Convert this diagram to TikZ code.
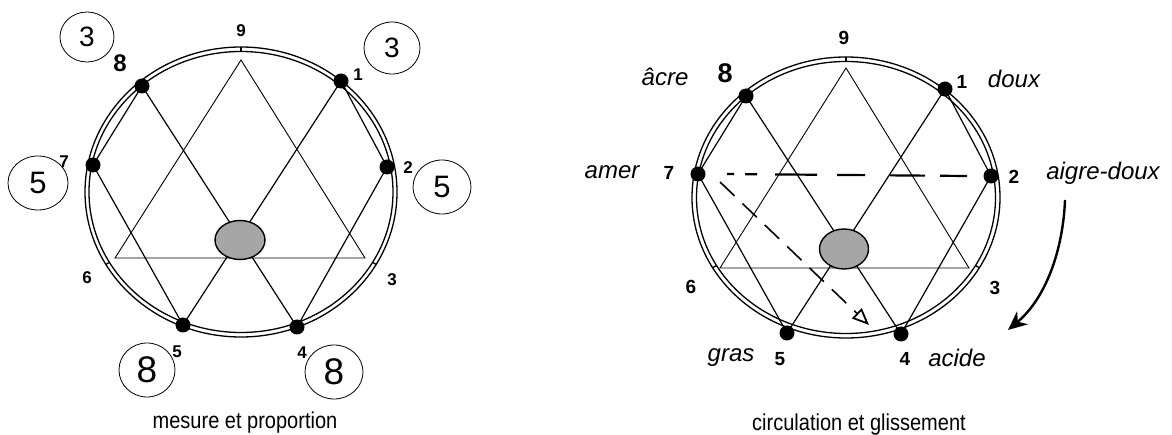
\documentclass[tikz,border=0pt]{standalone}
\usepackage{fontspec}
\setmainfont{Liberation Sans}
\usetikzlibrary{shapes.geometric,arrows.meta,calc}
\begin{document}
\begin{tikzpicture}[x=1pt,y=-1pt,
  ring/.style={line width=1.3pt},
  tri/.style={line width=0.9pt},
  hex/.style={line width=1.2pt},
  dot/.style={circle,fill=black,inner sep=0pt,minimum size=15pt},
  hub/.style={ellipse,draw,line width=1.4pt,fill=gray!70,inner sep=0pt},
  num/.style={font=\fontsize{17}{17}\selectfont\bfseries,inner sep=0pt},
  rnum/.style={font=\fontsize{19}{19}\selectfont\bfseries,inner sep=0pt},
  bignum/.style={font=\fontsize{24}{24}\selectfont\bfseries,inner sep=0pt},
  bubble/.style={ellipse,draw,line width=0.8pt,inner sep=0pt,minimum width=56pt,minimum height=52pt},
  taste/.style={font=\fontsize{24}{24}\selectfont\itshape,inner sep=0pt},
  caption/.style={font=\fontsize{23}{23}\selectfont,inner sep=0pt}]
\useasboundingbox (0,0) rectangle (1172,435);
\fill[white] (0,0) rectangle (1172,435);

% ---------------- left diagram ----------------
\coordinate (L) at (241,192);
\draw[ring] (L) ellipse [x radius=156pt, y radius=145pt];
\draw[ring] (L) ellipse [x radius=152pt, y radius=140.5pt];
\foreach \a in {90,210,330}
  \draw[ring] ($(L)+(\a:152pt and 140.5pt)$) -- ($(L)+(\a:156pt and 145pt)$);
\coordinate (Lt9) at (241,60);
\coordinate (Lt3) at (365,258);
\coordinate (Lt6) at (115,258);
\draw[tri] (Lt9) -- (Lt3) -- (Lt6) -- cycle;
\node[dot] (L8) at (142,86) {};
\node[dot] (L1) at (341,81) {};
\node[dot] (L7) at (93,165) {};
\node[dot] (L2) at (387,167) {};
\node[dot] (L5) at (183,325) {};
\node[dot] (L4) at (297,327) {};
\draw[hex] (L8.center) -- (L4.center);
\draw[hex] (L1.center) -- (L5.center);
\draw[hex] (L7.center) -- (L5.center);
\draw[hex] (L2.center) -- (L4.center);
\draw[hex] (L7.center) -- (L8.center);
\draw[hex] (L1.center) -- (L2.center);
\node[hub,minimum width=50pt,minimum height=39pt] (Lhub) at (240,240) {};

\node[bubble,font=\fontsize{28}{28}\selectfont,minimum width=54pt,minimum height=50pt] (Lb3a) at (87,37) {3};
\node[bubble,font=\fontsize{28}{28}\selectfont] (Lb3b) at (392,48) {3};
\node[bubble,font=\fontsize{31}{31}\selectfont,minimum width=60pt,minimum height=54pt] (Lb5a) at (38,183) {5};
\node[bubble,font=\fontsize{31}{31}\selectfont,minimum width=58pt,minimum height=54pt] (Lb5b) at (442,187) {5};
\node[bubble,font=\fontsize{37}{37}\selectfont,minimum width=56pt,minimum height=54pt] (Lb8a) at (147,370) {8};
\node[bubble,font=\fontsize{37}{37}\selectfont,minimum width=58pt,minimum height=54pt] (Lb8b) at (334,372) {8};

\node[num] (Ln9) at (241,31) {9};
\node[bignum] (Ln8) at (120,63) {8};
\node[num] (Ln1) at (358,75) {1};
\node[num] (Ln7) at (64,162) {7};
\node[num] (Ln2) at (408,168) {2};
\node[num] (Ln6) at (87,278) {6};
\node[num] (Ln3) at (392,280) {3};
\node[num] (Ln5) at (177,352) {5};
\node[num] (Ln4) at (302,353) {4};
\node[caption] (Lcap) at (245,423) {\scalebox{0.87}[1]{mesure et proportion}};

% ---------------- right diagram ----------------
\coordinate (R) at (846,197.5);
\draw[ring] (R) ellipse [x radius=154pt, y radius=140.5pt];
\draw[ring] (R) ellipse [x radius=149.5pt, y radius=136pt];
\foreach \a in {90,210,330}
  \draw[ring] ($(R)+(\a:149.5pt and 136pt)$) -- ($(R)+(\a:154pt and 140.5pt)$);
\coordinate (Rt9) at (846,68);
\coordinate (Rt3) at (969,268);
\coordinate (Rt6) at (720,268);
\draw[tri] (Rt9) -- (Rt3) -- (Rt6) -- cycle;
\node[dot] (R8) at (746,96) {};
\node[dot] (R1) at (945,89) {};
\node[dot] (R7) at (698,174) {};
\node[dot] (R2) at (991,176) {};
\node[dot] (R5) at (787,333) {};
\node[dot] (R4) at (901,334) {};
\draw[hex] (R8.center) -- (R4.center);
\draw[hex] (R1.center) -- (R5.center);
\draw[hex] (R7.center) -- (R5.center);
\draw[hex] (R2.center) -- (R4.center);
\draw[hex] (R7.center) -- (R8.center);
\draw[hex] (R1.center) -- (R2.center);
\node[hub,minimum width=49pt,minimum height=40pt] (Rhub) at (844,249) {};

\path (R7.center) ++(29,0) coordinate (Rd1) (R2.center) ++(-24,0) coordinate (Rd2);
\draw[line width=2.2pt,dash pattern=on 7pt off 11pt on 12pt off 18pt on 42pt off 20pt on 28pt off 25pt on 35pt off 15pt on 27pt]
  (Rd1) -- (Rd2);
\coordinate (Ra1) at (720,182);
\coordinate (Ra2) at (869,325);
\draw[line width=1.6pt,dash pattern=on 20pt off 11pt,-{Triangle[open,length=17pt,width=14pt,line width=1.8pt]}] (Ra1) -- (Ra2);
\coordinate (Rc1) at (1065,200);
\coordinate (Rc2) at (1008,330);
\draw[line width=2.4pt,-{Stealth[length=19pt,width=17pt]}] (Rc1) .. controls (1063,250) and (1046,298) .. (Rc2);

\node[rnum] (Rn9) at (844,38) {9};
\node[bignum,font=\fontsize{27}{27}\selectfont\bfseries] (Rn8) at (725,73) {8};
\node[rnum] (Rn1) at (962,82) {1};
\node[rnum] (Rn7) at (669,173) {7};
\node[rnum] (Rn2) at (1014,177) {2};
\node[rnum] (Rn6) at (691,287) {6};
\node[rnum] (Rn3) at (995,288) {3};
\node[rnum] (Rn5) at (780,359) {5};
\node[rnum] (Rn4) at (905,359) {4};
\node[taste] (Rw8) at (665,77) {âcre};
\node[taste] (Rw1) at (1014,79) {doux};
\node[taste] (Rw7) at (612,172) {amer};
\node[taste] (Rw2) at (1103,173) {aigre-doux};
\node[taste] (Rw5) at (731,358) {gras};
\node[taste] (Rw4) at (957,358) {acide};
\node[caption] (Rcap) at (859,425) {\scalebox{0.87}[1]{circulation et glissement}};
\end{tikzpicture}
\end{document}
